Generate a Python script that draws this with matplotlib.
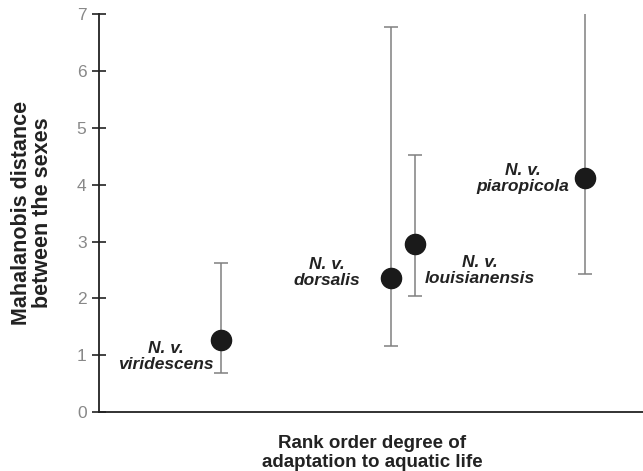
import numpy as np
import matplotlib
matplotlib.use("Agg")
import matplotlib.pyplot as plt

plt.rcParams['font.family'] = ['Liberation Sans', 'DejaVu Sans']

# subspecies, rank position (small offset for the two tied ranks), distance and interval
names = ["N. v.\nviridescens", "N. v.\ndorsalis", "N. v.\nlouisianensis", "N. v.\npiaropicola"]
rank = [1, 1.935, 2.065, 3]
dist = [1.27, 2.36, 2.96, 4.11]
lower = [0.69, 1.16, 2.05, 2.43]
upper = [2.62, 6.77, 4.52, 7.4]

# label placement: (dx, dy) offset in points from the point
label_pos = [(-40, -12), (-46, 4), (47, -19), (-45, 0)]

fig = plt.figure(figsize=(6.43, 4.71), dpi=100)
ax = fig.add_axes([0.154, 0.125, 0.846, 0.845])

d = np.array(dist)
yerr = [d - np.array(lower), np.array(upper) - d]
ax.errorbar(rank, dist, yerr=yerr, fmt="none", ecolor="#808080", elinewidth=1.1,
            capsize=5, capthick=1.1, zorder=2)
ax.plot(rank, dist, "o", color="#1a1a1a", markersize=14.5, zorder=3)

for x, y, name, (dx, dy) in zip(rank, dist, names, label_pos):
    ax.annotate(name, (x, y), xytext=(dx, dy), textcoords="offset points",
                ha="center", va="center", multialignment="center",
                fontsize=12.5, fontweight="bold", fontstyle="italic",
                color="#222222", linespacing=1.1)

ax.set_xlim(0.33, 3.319)
ax.set_ylim(0, 7)
ax.set_yticks(range(0, 8))
ax.set_xticks([])
ax.tick_params(axis="y", direction="inout", length=10, width=1.2, colors="#222222",
               labelcolor="#888888", labelsize=12.5, pad=4)
for s in ["top", "right"]:
    ax.spines[s].set_visible(False)
for s in ["left", "bottom"]:
    ax.spines[s].set_linewidth(1.3)
    ax.spines[s].set_color("#222222")

ax.set_ylabel("Mahalanobis distance\nbetween the sexes", fontsize=15.5, fontweight="bold",
              color="#222222", linespacing=1.0)
ax.yaxis.set_label_coords(-0.085, 0.5)
ax.set_xlabel("Rank order degree of\nadaptation to aquatic life", fontsize=13.5,
              fontweight="bold", color="#222222", linespacing=1.2)
ax.xaxis.set_label_coords(0.502, -0.057)
ax.xaxis.label.set_va("top")

fig.savefig("out.png", dpi=100)
